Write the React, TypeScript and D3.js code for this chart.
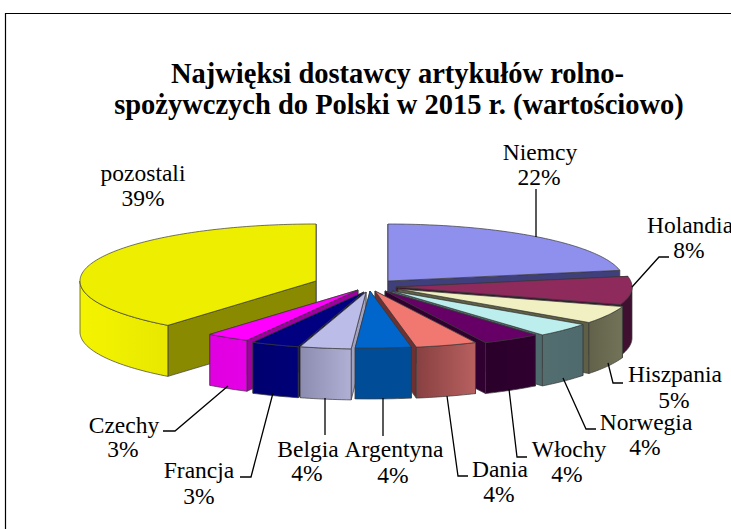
import React from "react";
import * as d3 from "d3";

const categories = ["Niemcy", "Holandia", "Hiszpania", "Norwegia", "Włochy", "Dania", "Argentyna", "Belgia", "Francja", "Czechy", "pozostali"];
const shares = [22, 8, 5, 4, 4, 4.2, 3.8, 3.5, 3.3, 3, 39.2];
const titleLines = ["Najwięksi dostawcy artykułów rolno-", "spożywczych do Polski w 2015 r. (wartościowo)"];

// layout of the exploded pie
const centerX = 370, centerY = 285, radiusX = 236, radiusY = 57, depth = 51;
const explodeX = [18, 26, 28, 22, 15, 5, 0, -4, -6, -12, -54];
const explodeY = [-4, 2, 4, 6, 6, 6, 6, 7, 7, 5, -4];

// styles
const topColors = ["#8f8fee", "#8f2a5c", "#f1f0c2", "#bdeeee", "#660066", "#f07870", "#0066cc", "#bcbce8", "#000080", "#ff00ff", "#eeee00"];
const faceColors = ["#3f3f7c", "#3f1030", "#5f5f45", "#4e6a6c", "#300030", "#6e3030", "#003f80", "#a0a0c0", "#000060", "#a000a0", "#8a8a00"];
const wallFrom = ["#3f3f7c", "#3f1030", "#73735a", "#4e6a6c", "#300030", "#b86060", "#004c96", "#b0b0d4", "#000078", "#e600e6", "#e8e800"];
const wallTo = ["#3f3f7c", "#3f1030", "#62624a", "#546e70", "#2a002a", "#884040", "#004c96", "#8c8cb0", "#000070", "#e000e0", "#f4f400"];

// labels: centre x, baselines of name and percent, leader polylines
const labelX = [540, 690, 675, 646, 569, 500, 394, 308, 199, 124, 143];
const pctX = [539, 689, 674, 645, 567, 499, 393, 307, 199, 123, 143];
const nameY = [160, 233, 382, 430, 457, 477, 457, 457, 478, 433, 181];
const pctY = [185, 258, 408, 455, 482, 502, 483, 481, 504, 457, 206];
const leaders: [number, number][][] = [
  [[536, 189], [536, 237]],
  [[632, 287], [659, 257], [669, 257]],
  [[608, 363], [613, 383], [623, 383]],
  [[563, 378], [586, 429], [596, 429]],
  [[509, 389], [517, 457], [527, 457]],
  [[447, 396], [458, 476], [468, 476]],
  [[383, 398], [383, 436]],
  [[325, 398], [325, 435]],
  [[273, 393], [251, 477], [240, 477]],
  [[228, 386], [175, 431], [163, 431]],
  [],
];

const serif = "'Liberation Serif', 'Times New Roman', serif";
const lineGen = d3.line<[number, number]>();

export default function App() {
  const arcs = d3.pie<number>().sort(null).startAngle(0).endAngle(2 * Math.PI)(shares);

  const slices = arcs.map((a, i) => {
    const ax = centerX + explodeX[i];
    const ay = centerY + explodeY[i];
    const pt = (t: number): [number, number] => [ax + radiusX * Math.sin(t), ay - radiusY * Math.cos(t)];
    const down = (p: [number, number]): [number, number] => [p[0], p[1] + depth];
    const sample = (s: number, e: number) => {
      const n = Math.max(2, Math.ceil((e - s) / 0.02));
      return d3.range(n + 1).map((k) => pt(s + ((e - s) * k) / n));
    };
    const rim = sample(a.startAngle, a.endAngle);
    const apex: [number, number] = [ax, ay];
    const top = lineGen([apex, ...rim])! + "Z";
    const startP = pt(a.startAngle);
    const endP = pt(a.endAngle);
    const startFace = lineGen([apex, startP, down(startP), down(apex)])! + "Z";
    const endFace = lineGen([apex, endP, down(endP), down(apex)])! + "Z";
    const ws = Math.max(a.startAngle, Math.PI / 2);
    const we = Math.min(a.endAngle, (3 * Math.PI) / 2);
    let wall: string | null = null;
    let wallX: [number, number] = [0, 1];
    if (we > ws) {
      const wr = sample(ws, we);
      wall = lineGen([...wr, ...wr.slice().reverse().map(down)])! + "Z";
      wallX = d3.extent(wr, (d) => d[0]) as [number, number];
    }
    const mid = (a.startAngle + a.endAngle) / 2;
    return { i, top, startFace, endFace, wall, wallX, mid };
  });

  // painter's order: back to front, both sides meeting at the front
  const order = slices.slice().sort((p, q) => Math.abs(q.mid - Math.PI) - Math.abs(p.mid - Math.PI));

  const edge = "#3a3a3a";
  return (
    <svg width={731} height={529} style={{ position: "absolute", left: 0, top: 0, background: "#fff" }}>
      <defs>
        {slices.map((s) => (
          <linearGradient key={s.i} id={`wall${s.i}`} gradientUnits="userSpaceOnUse" x1={s.wallX[0]} x2={s.wallX[1]} y1={0} y2={0}>
            <stop offset="0" stopColor={wallTo[s.i]} />
            <stop offset="1" stopColor={wallFrom[s.i]} />
          </linearGradient>
        ))}
      </defs>
      <path d="M731.5,13.5H5.5V529" fill="none" stroke="#000" strokeWidth={1.2} />
      <text textAnchor="middle" fontFamily={serif} fontWeight="bold" fontSize={28.5} fill="#000">
        {titleLines.map((t, i) => (
          <tspan key={i} x={i === 0 ? 397.5 : 399} y={83 + i * 31}>{t}</tspan>
        ))}
      </text>
      {order.map((s) => {
        const rightSide = s.mid < Math.PI;
        return (
          <g key={s.i} stroke={edge} strokeWidth={0.7} strokeLinejoin="round">
            <path d={rightSide ? s.startFace : s.endFace} fill={faceColors[s.i]} />
            <path d={rightSide ? s.endFace : s.startFace} fill={faceColors[s.i]} />
            {s.wall && <path d={s.wall} fill={`url(#wall${s.i})`} />}
            <path d={s.top} fill={topColors[s.i]} />
          </g>
        );
      })}
      {leaders.map((l, i) =>
        l.length ? <path key={i} d={lineGen(l)!} fill="none" stroke="#000" strokeWidth={1.3} /> : null
      )}
      <g fontFamily={serif} fontSize={23.5} fill="#000" textAnchor="middle">
        {categories.map((c, i) => (
          <g key={c}>
            <text x={labelX[i]} y={nameY[i]}>{c}</text>
            <text x={pctX[i]} y={pctY[i]}>{Math.round(shares[i])}%</text>
          </g>
        ))}
      </g>
    </svg>
  );
}
